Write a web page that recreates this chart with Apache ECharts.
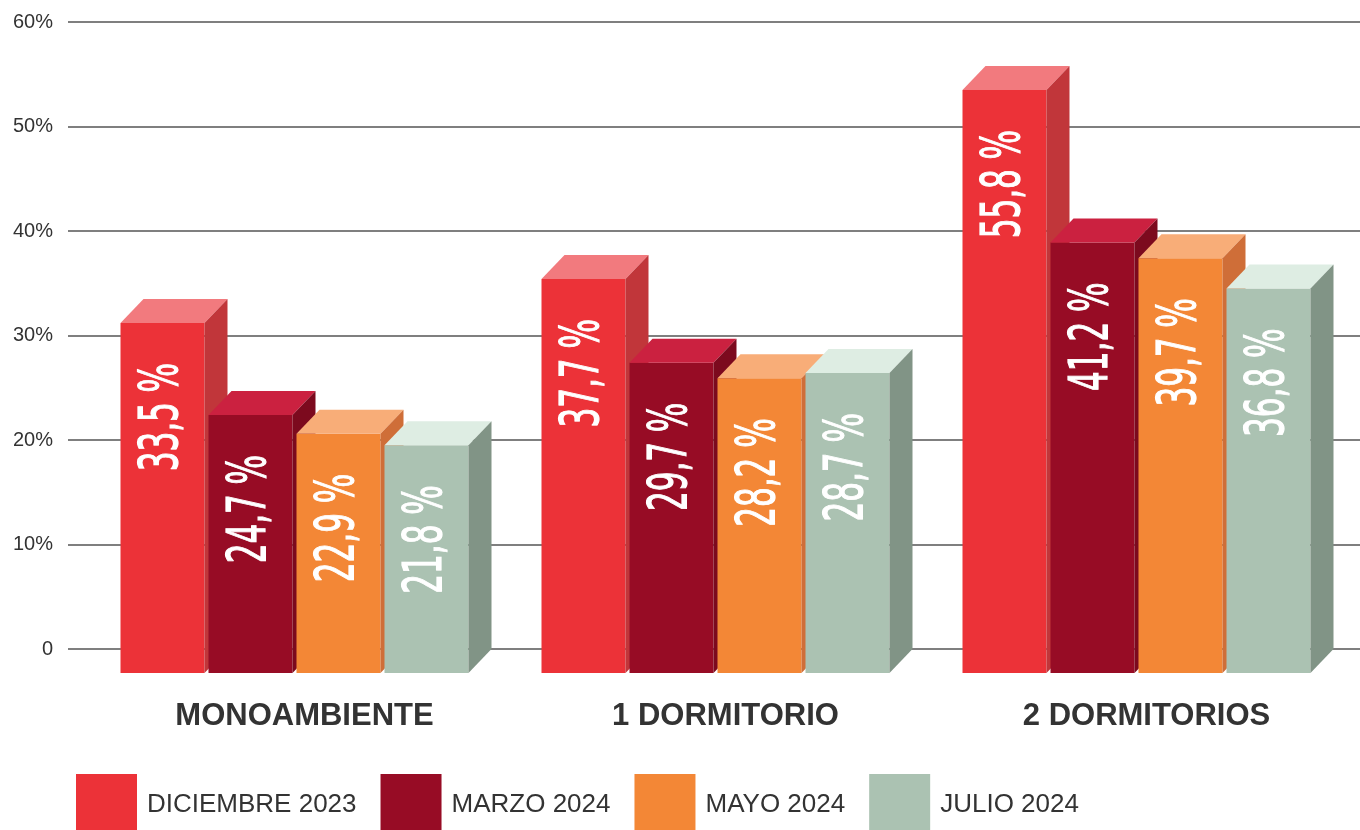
<!DOCTYPE html>
<html>
<head>
<meta charset="utf-8">
<script src="https://cdn.jsdelivr.net/npm/echarts@6/dist/echarts.min.js"></script>
<style>
  html, body { margin: 0; padding: 0; background: #fff; }
  #chart { width: 1360px; height: 830px; }
</style>
</head>
<body>
<div id="chart"></div>
<script>
// data
const categories = ['MONOAMBIENTE', '1 DORMITORIO', '2 DORMITORIOS']
const periods = ['DICIEMBRE 2023', 'MARZO 2024', 'MAYO 2024', 'JULIO 2024']
const dic2023 = [33.5, 37.7, 55.8]
const mar2024 = [24.7, 29.7, 41.2]
const may2024 = [22.9, 28.2, 39.7]
const jul2024 = [21.8, 28.7, 36.8]
const seriesValues = [dic2023, mar2024, may2024, jul2024]

// front / top / side colours of each period
const FRONT = ['#EC3238', '#970C25', '#F38736', '#ABC2B2']
const TOP = ['#F27A7E', '#CB2140', '#F8AD78', '#DEEDE3']
const SIDE = ['#C1363A', '#7C0A1E', '#CF6E38', '#819486']

const BAR_W = 84
const BAR_GAP = 4
const DX = 23
const DY = 24
const TEXT_FONT = '"DejaVu Sans Condensed", "Liberation Sans Narrow", sans-serif'
const FONT = '"Liberation Sans", Arial, Helvetica, sans-serif'

function fmt(v) {
  return v.toFixed(1).replace('.', ',') + ' %'
}

function renderItem(params, api) {
  const s = params.seriesIndex
  const val = api.value(1)
  const top = api.coord([api.value(0), val])
  const base = api.coord([api.value(0), 0])
  const groupW = 4 * BAR_W + 3 * BAR_GAP
  const l = top[0] - groupW / 2 + s * (BAR_W + BAR_GAP)
  const r = l + BAR_W
  const ft = top[1] + DY
  const fb = base[1] + DY
  return {
    type: 'group',
    children: [
      {
        type: 'rect',
        shape: { x: l, y: ft, width: BAR_W, height: fb - ft },
        style: { fill: FRONT[s] }
      },
      {
        type: 'polygon',
        shape: { points: [[l, ft], [l + DX, ft - DY], [r + DX, ft - DY], [r, ft]] },
        style: { fill: TOP[s] }
      },
      {
        type: 'polygon',
        shape: { points: [[r, ft], [r + DX, ft - DY], [r + DX, fb - DY], [r, fb]] },
        style: { fill: SIDE[s] }
      },
      {
        type: 'text',
        x: l + BAR_W / 2 + 1,
        y: ft + 40,
        rotation: Math.PI / 2,
        scaleX: 0.75,
        scaleY: 1.15,
        style: {
          text: fmt(val),
          fill: '#fff',
          stroke: '#fff',
          lineWidth: 1,
          fontSize: 46,
          fontFamily: TEXT_FONT,
          align: 'right',
          verticalAlign: 'middle'
        }
      }
    ]
  }
}

const chart = echarts.init(document.getElementById('chart'))

chart.setOption({
  animation: false,
  grid: [
    { left: 68, right: 0, top: 22, bottom: 181 },
    { left: 84, width: 1263, top: 22, bottom: 181 }
  ],
  legend: {
    left: 76,
    top: 774,
    padding: 0,
    icon: 'rect',
    itemWidth: 61,
    itemHeight: 61,
    itemGap: 24,
    selectedMode: false,
    textStyle: { fontSize: 26, color: '#333', fontFamily: FONT, padding: [0, 0, 0, 5] },
    data: periods.map((p, i) => ({ name: p, itemStyle: { color: FRONT[i] } }))
  },
  xAxis: [
    {
      gridIndex: 0,
      type: 'category',
      data: categories,
      show: false
    },
    {
      gridIndex: 1,
      type: 'category',
      data: categories,
      axisLine: { show: false },
      axisTick: { show: false },
      axisLabel: {
        margin: 52,
        fontSize: 31,
        fontWeight: 'bold',
        color: '#333',
        fontFamily: FONT,
        padding: [0, 0, 0, 20]
      }
    }
  ],
  yAxis: [
    {
      gridIndex: 0,
      type: 'value',
      min: 0,
      max: 60,
      interval: 10,
      axisLine: { show: false },
      axisTick: { show: false },
      axisLabel: {
        margin: 15,
        fontSize: 20,
        color: '#333',
        fontFamily: FONT,
        formatter: v => (v === 0 ? '0' : v + '%')
      },
      splitLine: { lineStyle: { color: '#555', width: 1.5 } }
    },
    {
      gridIndex: 1,
      type: 'value',
      min: 0,
      max: 60,
      interval: 10,
      show: false
    }
  ],
  series: seriesValues.map((vals, i) => ({
    name: periods[i],
    type: 'custom',
    xAxisIndex: 1,
    yAxisIndex: 1,
    itemStyle: { color: FRONT[i] },
    renderItem: renderItem,
    data: vals.map((v, c) => [c, v])
  }))
})
</script>
</body>
</html>
